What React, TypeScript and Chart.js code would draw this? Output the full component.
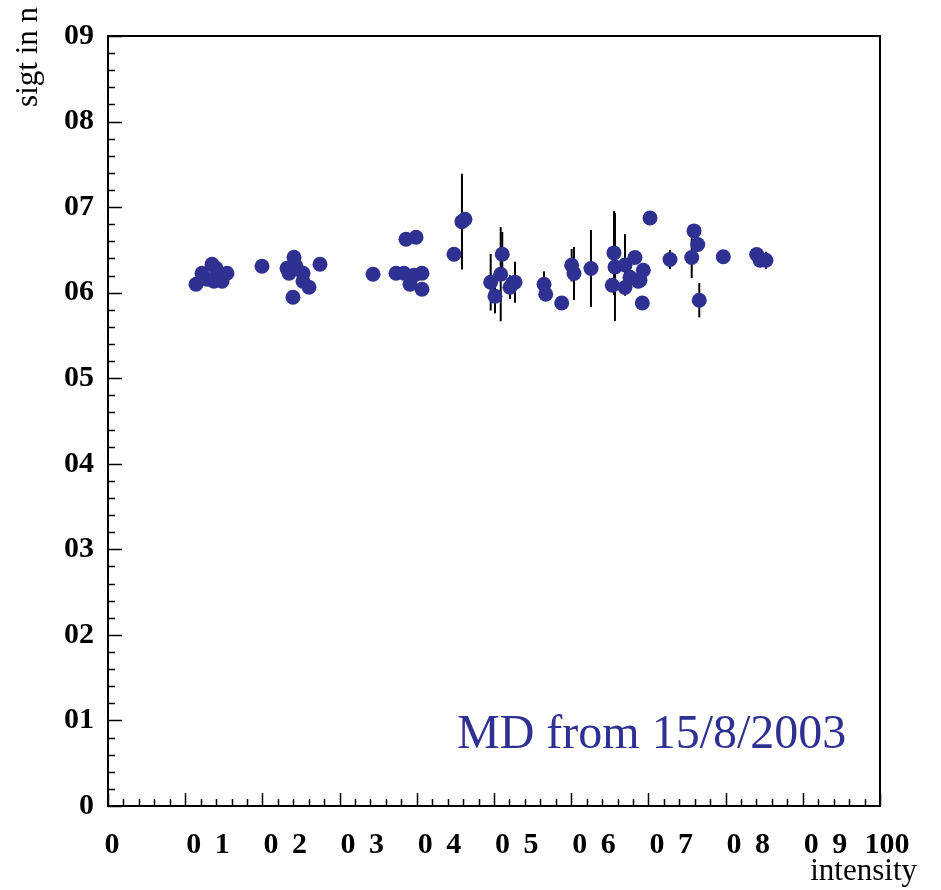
import React, { useEffect, useRef } from "react";
import { Chart, registerables } from "chart.js";

Chart.register(...registerables);

const xValues = [
  11.40, 12.18, 12.82, 13.47, 13.99, 13.73, 14.38, 14.77, 15.41,
  19.95, 23.19, 23.45, 24.09, 24.35, 25.26, 25.26, 26.04, 23.96, 27.46,
  34.33, 37.31, 38.34, 38.60, 39.90, 39.12, 39.64, 40.67, 40.67,
  44.82, 45.85, 46.24, 49.57, 50.13, 50.87, 51.07, 52.07, 52.42, 52.72,
  56.48, 56.70, 58.77, 60.06, 60.36, 62.56, 65.54, 65.67, 65.32, 66.97,
  66.97, 67.62, 68.26, 69.34, 68.69, 68.91, 69.21, 70.21, 72.80,
  75.91, 76.39, 75.61, 76.59, 79.70, 84.03, 84.46, 85.23,
];
const yValues = [
  60.99, 62.27, 61.57, 63.32, 62.86, 61.34, 62.16, 61.34, 62.27,
  63.09, 62.86, 62.27, 64.14, 63.09, 62.27, 61.34, 60.64, 59.47, 63.32,
  62.16, 62.27, 62.27, 66.25, 66.48, 60.99, 62.04, 62.27, 60.40,
  64.49, 68.30, 68.58, 61.22, 59.59, 62.16, 64.49, 60.64, 61.11, 61.22,
  60.99, 59.82, 58.80, 63.20, 62.24, 62.82, 64.65, 63.00, 60.87, 63.24,
  60.60, 61.81, 64.11, 62.62, 61.34, 61.46, 58.80, 68.72, 63.87,
  67.22, 65.63, 64.11, 59.12, 64.19, 64.46, 63.79, 63.79,
];
const yErrors = [
  0, 0, 0, 0, 0, 0, 0, 0, 0,
  0, 0, 0, 0, 0, 0, 0, 0, 0, 0,
  0, 0, 0, 0, 0, 0, 0, 0, 0,
  0, 5.6, 0, 3.3, 2.0, 5.5, 2.6, 1.4, 0, 2.4,
  1.5, 0, 0, 1.9, 3.1, 4.5, 4.9, 6.3, 0, 3.6,
  0, 0, 0, 0, 0, 0, 0, 0, 1.1,
  0, 0, 2.4, 2.0, 0, 0, 0, 1.0,
];

const xTickValues = [0, 10, 20, 30, 40, 50, 60, 70, 80, 90, 100];
const xTickLabels = ["0", "0 1", "0 2", "0 3", "0 4", "0 5", "0 6", "0 7", "0 8", "0 9", "100"];
const yTickValues = [0, 10, 20, 30, 40, 50, 60, 70, 80, 90];
const yTickLabels = ["0", "01", "02", "03", "04", "05", "06", "07", "08", "09"];
const xTitle = "intensity";
const yTitle = "sigt in n";
const annotationText = "MD from 15/8/2003";

const MARKER = "#2e3192";
const SERIF = '"Liberation Serif", "DejaVu Serif", serif';

const decorPlugin = {
  id: "decor",
  beforeDatasetsDraw(chart: any) {
    const ctx = chart.ctx;
    const xs = chart.scales.x;
    const ys = chart.scales.y;
    ctx.save();
    ctx.strokeStyle = "#000";
    ctx.lineWidth = 2;
    for (let i = 0; i < xValues.length; i++) {
      const e = yErrors[i];
      if (!e) continue;
      const px = xs.getPixelForValue(xValues[i]);
      ctx.beginPath();
      ctx.moveTo(px, ys.getPixelForValue(yValues[i] - e));
      ctx.lineTo(px, ys.getPixelForValue(yValues[i] + e));
      ctx.stroke();
    }
    ctx.restore();
  },
  afterDraw(chart: any) {
    const ctx = chart.ctx;
    const xs = chart.scales.x;
    const ys = chart.scales.y;
    const { left, right, top, bottom } = chart.chartArea;
    ctx.save();
    ctx.strokeStyle = "#000";
    ctx.lineWidth = 2;
    ctx.strokeRect(left, top, right - left, bottom - top);

    // x ticks (inside)
    ctx.lineWidth = 1.5;
    for (let v = 0; v <= 100; v += 2) {
      const px = Math.round(xs.getPixelForValue(v)) + 0.5;
      const len = v % 10 === 0 ? 13 : 7;
      ctx.beginPath();
      ctx.moveTo(px, bottom);
      ctx.lineTo(px, bottom - len);
      ctx.stroke();
    }
    // y ticks (inside)
    for (let v = 0; v <= 90; v += 2) {
      const py = Math.round(ys.getPixelForValue(v)) + 0.5;
      const len = v % 10 === 0 ? 14 : 7;
      ctx.beginPath();
      ctx.moveTo(left, py);
      ctx.lineTo(left + len, py);
      ctx.stroke();
    }

    ctx.fillStyle = "#000";
    ctx.font = `bold 30px ${SERIF}`;
    // y labels
    ctx.textAlign = "right";
    ctx.textBaseline = "middle";
    yTickValues.forEach((v, i) => {
      ctx.fillText(yTickLabels[i], left - 14, ys.getPixelForValue(v));
    });
    // x labels
    ctx.textBaseline = "alphabetic";
    xTickValues.forEach((v, i) => {
      const px = xs.getPixelForValue(v);
      if (i === 0) {
        ctx.letterSpacing = "0px";
        ctx.textAlign = "center";
        ctx.fillText(xTickLabels[i], px + 4, 853);
      } else if (i === xTickValues.length - 1) {
        ctx.letterSpacing = "0px";
        ctx.textAlign = "center";
        ctx.fillText(xTickLabels[i], px + 7, 853);
      } else {
        ctx.letterSpacing = "3px";
        ctx.textAlign = "left";
        ctx.fillText(xTickLabels[i], px + 1, 853);
      }
    });
    ctx.letterSpacing = "0px";

    // titles
    ctx.font = `31px ${SERIF}`;
    ctx.textAlign = "right";
    ctx.textBaseline = "alphabetic";
    ctx.fillText(xTitle, 917, 880);

    ctx.save();
    ctx.translate(37, 7);
    ctx.rotate(-Math.PI / 2);
    ctx.font = `31px ${SERIF}`;
    ctx.textAlign = "right";
    ctx.fillText(yTitle, 0, 0);
    ctx.restore();

    // annotation
    ctx.fillStyle = MARKER;
    ctx.font = `48px ${SERIF}`;
    ctx.textAlign = "left";
    ctx.textBaseline = "alphabetic";
    ctx.fillText(annotationText, 457, 748);

    ctx.restore();
  },
};

export default function App() {
  const canvasRef = useRef<HTMLCanvasElement | null>(null);

  useEffect(() => {
    const canvas = canvasRef.current;
    if (!canvas) return;
    const data = xValues.map((x, i) => ({ x, y: yValues[i] }));
    const chart = new Chart(canvas, {
      type: "scatter",
      data: {
        datasets: [
          {
            data,
            backgroundColor: MARKER,
            borderWidth: 0,
            pointRadius: 7.5,
            pointHoverRadius: 7.5,
          },
        ],
      },
      options: {
        responsive: false,
        animation: false,
        events: [],
        layout: { padding: { left: 108, top: 36, right: 61, bottom: 84 } },
        plugins: {
          legend: { display: false },
          tooltip: { enabled: false },
        },
        scales: {
          x: { type: "linear", min: 0, max: 100, display: false },
          y: { type: "linear", min: 0, max: 90, display: false },
        },
      },
      plugins: [decorPlugin],
    });
    return () => chart.destroy();
  }, []);

  return (
    <div style={{ position: "absolute", left: 0, top: 0, width: 941, height: 890, background: "#fff" }}>
      <canvas
        ref={canvasRef}
        width={941}
        height={890}
        style={{ display: "block", width: 941, height: 890 }}
      />
    </div>
  );
}
